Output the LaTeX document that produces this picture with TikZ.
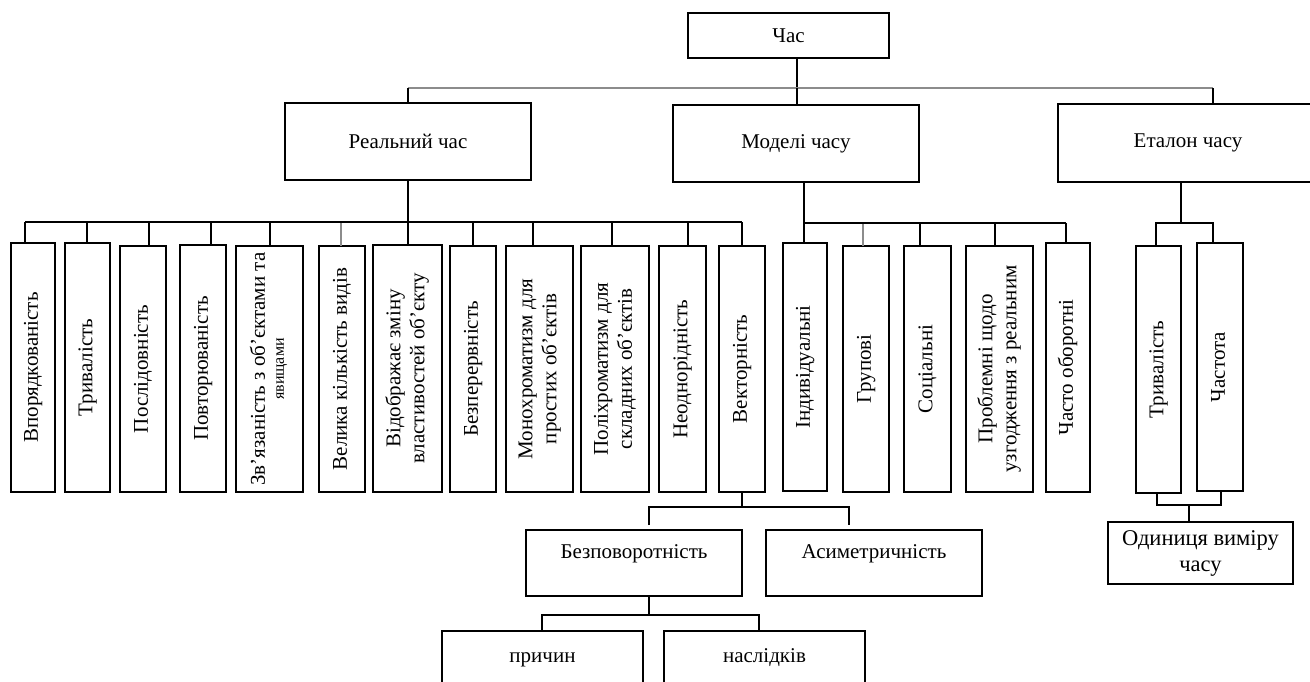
\documentclass[tikz,border=0pt]{standalone}
\usepackage{fontspec}
\usepackage{graphicx}
\setmainfont{Liberation Serif}
\newcommand\rottxt[1]{\rotatebox{90}{\begin{tabular}{@{}c@{}}#1\end{tabular}}}
\begin{document}
\begin{tikzpicture}[x=1pt,y=-1pt, line width=1.1pt,
  box/.style={draw, inner sep=0pt, outer sep=0pt, font=\fontsize{21}{24}\selectfont},
  txt/.style={inner sep=0pt, font=\fontsize{21}{24}\selectfont},
  light/.style={draw=black!45}]
\useasboundingbox (0,0) rectangle (1310,681);
\clip (0,0) rectangle (1310,681);

% top level
\node[box, minimum width=201, minimum height=45] (chas) at (788.5,35.5) {Час};
\node[box, minimum width=246, minimum height=77] (real) at (408,141.5) {Реальний час};
\node[box, minimum width=246, minimum height=77] (model) at (796,143.5) {Моделі часу};
\node[box, minimum width=260, minimum height=78] (etal) at (1188,143) {Еталон часу};

% vertical boxes
\node[box, minimum width=44, minimum height=249] (b1) at (33,367.5) {\rottxt{Впорядкованість}};
\node[box, minimum width=45, minimum height=249] (b2) at (87.5,367.5) {\rottxt{Тривалість}};
\node[box, minimum width=46, minimum height=246] (b3) at (143,369) {\rottxt{Послідовність}};
\node[box, minimum width=46, minimum height=247] (b4) at (203,368.5) {\rottxt{Повторюваність}};
\node[box, minimum width=67, minimum height=246] (b5) at (269.5,369) {\rottxt{Зв’язаність з об’єктами та\\[-5pt]{\fontsize{16}{17}\selectfont явищами}}};
\node[box, minimum width=46, minimum height=246] (b6) at (342,369) {\rottxt{Велика кількість видів}};
\node[box, minimum width=69, minimum height=247] (b7) at (407.5,368.5) {\rottxt{Відображає зміну\\властивостей об’єкту}};
\node[box, minimum width=46, minimum height=246] (b8) at (473,369) {\rottxt{Безперервність}};
\node[box, minimum width=67, minimum height=246] (b9) at (539.5,369) {\rottxt{Монохроматизм для\\простих об’єктів}};
\node[box, minimum width=68, minimum height=246] (b10) at (615,369) {\rottxt{Поліхроматизм для\\складних об’єктів}};
\node[box, minimum width=47, minimum height=246] (b11) at (682.5,369) {\rottxt{Неоднорідність}};
\node[box, minimum width=46, minimum height=246] (b12) at (742,369) {\rottxt{Векторність}};
\node[box, minimum width=44, minimum height=248] (b13) at (805,367) {\rottxt{Індивідуальні}};
\node[box, minimum width=46, minimum height=246] (b14) at (866,369) {\rottxt{Групові}};
\node[box, minimum width=47, minimum height=246] (b15) at (927.5,369) {\rottxt{Соціальні}};
\node[box, minimum width=67, minimum height=246] (b16) at (999.5,369) {\rottxt{Проблемні щодо\\узгодження з реальним}};
\node[box, minimum width=44, minimum height=249] (b17) at (1068,367.5) {\rottxt{Часто оборотні}};
\node[box, minimum width=45, minimum height=247] (b18) at (1158.5,369.5) {\rottxt{Тривалість}};
\node[box, minimum width=46, minimum height=248] (b19) at (1220,367) {\rottxt{Частота}};

% lower boxes
\node[box, minimum width=216, minimum height=66] (bez) at (634,563) {};
\node[txt, anchor=base] (bezt) at (634,558) {Безповоротність};
\node[box, minimum width=216, minimum height=66] (asym) at (874,563) {};
\node[txt, anchor=base] (asymt) at (874,558) {Асиметричність};
\node[box, minimum width=201, minimum height=80] (prich) at (542.5,671) {};
\node[txt, anchor=base] (pricht) at (542.5,662) {причин};
\node[box, minimum width=201, minimum height=80] (nasl) at (764.5,671) {};
\node[txt, anchor=base] (naslt) at (764.5,662) {наслідків};
\node[box, minimum width=185, minimum height=62, align=center,
      font=\fontsize{22.5}{26}\selectfont] (odyn) at (1200.5,553) {Одиниця виміру\\часу};

% level 0 -> 1
\coordinate (jl) at (408,88);
\coordinate (jt) at (797,88);
\coordinate (jr) at (1213,88);
\draw (jt |- chas.south) -- (jt);
\draw[light] (jl) -- (jr);
\draw (jl) -- (jl |- real.north);
\draw (jt) -- (jt |- model.north);
\draw (jr) -- (jr |- etal.north);

% real time group
\coordinate (r0) at (408,222);
\draw (real.south) -- (r0);
\foreach \n/\x in {1/25,2/87,3/149,4/211,5/270,7/408,8/473,9/533,10/612,11/688,12/742}{
  \coordinate (rd\n) at (\x,222);
  \draw (rd\n) -- (rd\n |- b\n.north);
}
\coordinate (rd6) at (341,222);
\draw[light] (rd6) -- (rd6 |- b6.north);
\draw (rd1) -- (rd12);

% models group
\coordinate (m0) at (804,223);
\draw (m0 |- model.south) -- (m0);
\foreach \n/\x in {13/804,15/920,16/995,17/1066}{
  \coordinate (md\n) at (\x,223);
  \draw (md\n) -- (md\n |- b\n.north);
}
\coordinate (md14) at (863,223);
\draw[light] (md14) -- (md14 |- b14.north);
\draw (md13) -- (md17);

% etalon group
\coordinate (e0) at (1181,223);
\coordinate (e1) at (1156,223);
\coordinate (e2) at (1213,223);
\draw (e0 |- etal.south) -- (e0);
\draw (e1 |- b18.north) -- (e1) -- (e2) -- (e2 |- b19.north);

% vector -> bez / asym
\coordinate (v0) at (742,507);
\coordinate (vl) at (649,507);
\coordinate (vr) at (849,507);
\coordinate (vle) at (649,525);
\coordinate (vre) at (849,525);
\draw (b12.south) -- (v0);
\draw (vle) -- (vl) -- (vr) -- (vre);

% bez -> prich / nasl
\coordinate (z0) at (649,615);
\coordinate (zl) at (542,615);
\coordinate (zr) at (759,615);
\draw (z0 |- bez.south) -- (z0);
\draw (zl |- prich.north) -- (zl) -- (zr) -- (zr |- nasl.north);

% etalon -> unit
\coordinate (o1) at (1157,505);
\coordinate (o2) at (1221,505);
\coordinate (o0) at (1189,505);
\draw (o1 |- b18.south) -- (o1) -- (o2) -- (o2 |- b19.south);
\draw (o0) -- (o0 |- odyn.north);
\end{tikzpicture}
\end{document}
